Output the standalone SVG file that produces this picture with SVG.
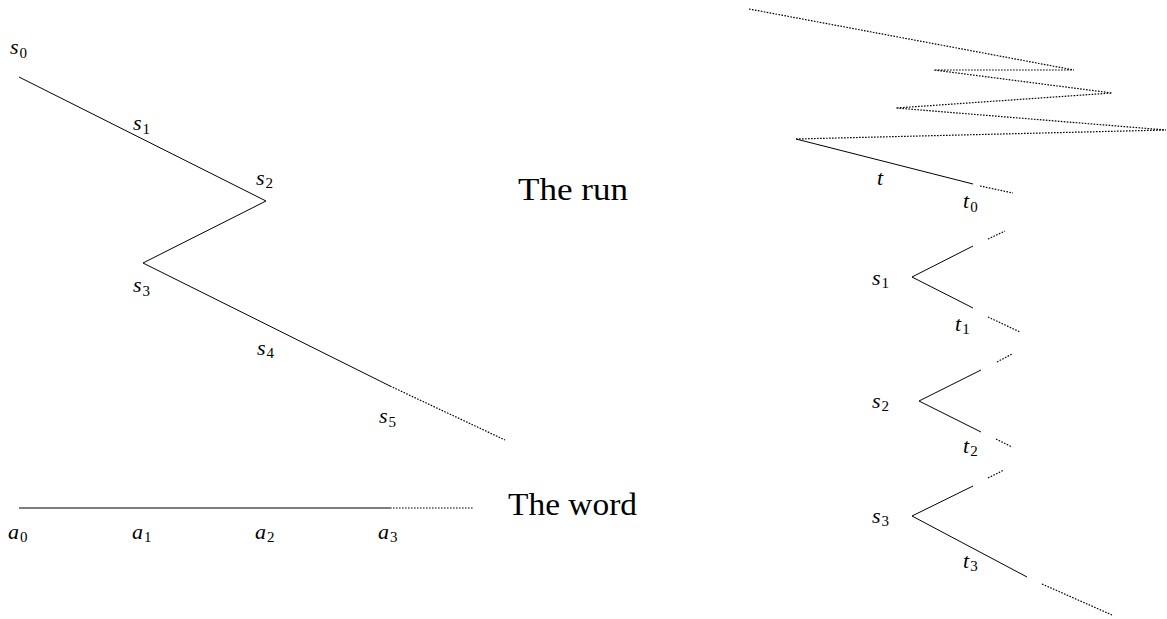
<svg xmlns="http://www.w3.org/2000/svg" width="1167" height="619" viewBox="0 0 1167 619">
<style>
.s{stroke:#000;stroke-width:1;fill:none}
.d{stroke:#000;stroke-width:1.2;fill:none;stroke-dasharray:1.6 1.4}
.lb{font-family:"Liberation Serif",serif;font-style:italic;font-size:22px;fill:#000}
.lb tspan.sub{font-style:normal;font-size:15px}
.big{font-family:"Liberation Serif",serif;font-size:32px;fill:#000}
</style>
<rect width="1167" height="619" fill="#fff"/>
<g id="connectors">
<polyline class="s" points="19,77 266,201 143,263 390,386"/>
<line class="d" x1="390" y1="386" x2="505" y2="440"/>
<line class="s" x1="19" y1="508" x2="390" y2="508"/>
<line class="d" x1="390" y1="508" x2="474" y2="508"/>
<polyline class="d" points="749,9 1074,70 934,70 1112,93 896,108 1166,130 796,139"/>
<line class="s" x1="796" y1="139" x2="973" y2="184"/>
<line class="d" x1="980" y1="186" x2="1013" y2="193"/>
<polyline class="s" points="973,246 912,277 973,308"/>
<line class="d" x1="988" y1="239" x2="1005" y2="231"/>
<line class="d" x1="988" y1="317" x2="1020" y2="332"/>
<polyline class="s" points="981,370 919,401 981,432"/>
<line class="d" x1="997" y1="362" x2="1012" y2="354"/>
<line class="d" x1="996" y1="439" x2="1012" y2="447"/>
<polyline class="s" points="973,486 912,516 1027,577"/>
<line class="d" x1="988" y1="478" x2="1004" y2="470"/>
<line class="d" x1="1042" y1="584" x2="1112" y2="615"/>
</g>
<g id="run-labels">
<text class="lb" x="10" y="54">s<tspan class="sub" dx="1" dy="4">0</tspan></text>
<text class="lb" x="133" y="130">s<tspan class="sub" dx="1" dy="4">1</tspan></text>
<text class="lb" x="256" y="185">s<tspan class="sub" dx="1" dy="3">2</tspan></text>
<text class="lb" x="133" y="292">s<tspan class="sub" dx="1" dy="4">3</tspan></text>
<text class="lb" x="257" y="355">s<tspan class="sub" dx="1" dy="3">4</tspan></text>
<text class="lb" x="379" y="423">s<tspan class="sub" dx="1" dy="4">5</tspan></text>
</g>
<g id="word-labels">
<text class="lb" x="8" y="539">a<tspan class="sub" dx="1" dy="3">0</tspan></text>
<text class="lb" x="132" y="539">a<tspan class="sub" dx="1" dy="3">1</tspan></text>
<text class="lb" x="255" y="539">a<tspan class="sub" dx="1" dy="3">2</tspan></text>
<text class="lb" x="378" y="539">a<tspan class="sub" dx="1" dy="3">3</tspan></text>
</g>
<g id="title-run"><text class="big" x="518" y="200" textLength="110" lengthAdjust="spacingAndGlyphs">The run</text></g>
<g id="title-word"><text class="big" x="508" y="515" textLength="129" lengthAdjust="spacingAndGlyphs">The word</text></g>
<g id="tree-labels">
<text class="lb" x="877" y="185">t</text>
<text class="lb" x="963" y="208">t<tspan class="sub" dx="1" dy="4">0</tspan></text>
<text class="lb" x="872" y="285">s<tspan class="sub" dx="1" dy="3">1</tspan></text>
<text class="lb" x="955" y="331">t<tspan class="sub" dx="1" dy="3">1</tspan></text>
<text class="lb" x="872" y="408">s<tspan class="sub" dx="1" dy="3">2</tspan></text>
<text class="lb" x="963" y="453">t<tspan class="sub" dx="1" dy="3">2</tspan></text>
<text class="lb" x="872" y="523">s<tspan class="sub" dx="1" dy="3">3</tspan></text>
<text class="lb" x="963" y="568">t<tspan class="sub" dx="1" dy="3">3</tspan></text>
</g>
</svg>
